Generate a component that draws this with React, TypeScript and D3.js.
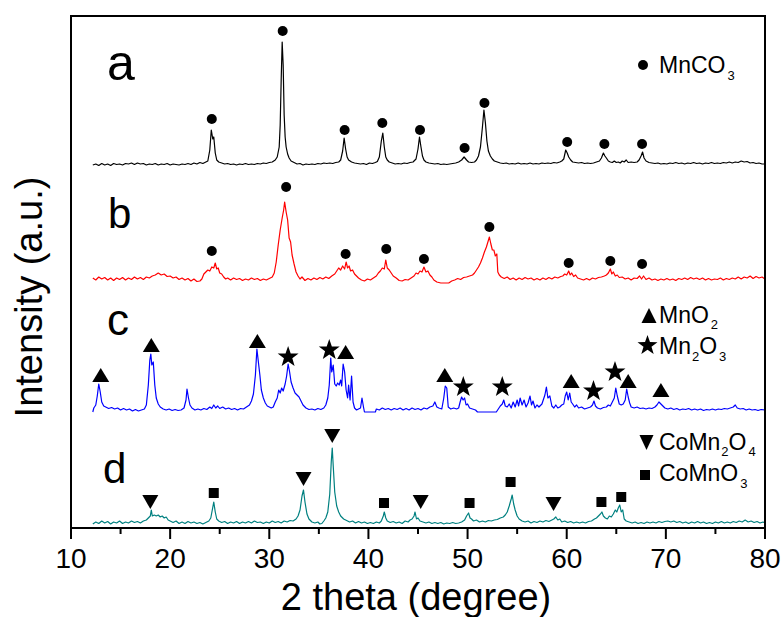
import React from "react";
import * as d3 from "d3";

// ---------- data (2θ in degrees, intensity in a.u. above each trace's own baseline) ----------
const MAJOR_TICKS = [10, 20, 30, 40, 50, 60, 70, 80];
const MINOR_TICKS = [15, 25, 35, 45, 55, 65, 75];

const OFFSET_A = 363;
const OFFSET_B = 248;
const OFFSET_C = 118;
const OFFSET_D = 4;

const traceA: number[][] = [
  [12.2,0],[12.5,1],[12.8,-0.5],[13.1,1.5],[13.4,0],[13.7,1],[14.0,-0.5],[14.3,1.5],[14.6,0.5],[14.9,1],[15.2,0],[15.5,1.5],[15.8,1],[16.1,2],[16.4,0.5],[16.7,2],[17.0,1],[17.3,1.5],[17.6,0],[17.9,1],[18.2,0.5],[18.5,1.5],[18.8,0],[19.1,1],[19.4,0.5],[19.7,1.5],[20.0,0],[20.3,1],[20.6,0.5],[20.9,0],[21.2,1],[21.5,0.5],[21.8,1.5],[22.1,0.5],[22.4,2],[22.7,1],[23.0,2.5],[23.3,1.5],[23.6,3],[23.8,4],[24.0,15],[24.15,35],[24.3,26],[24.4,28],[24.55,12],[24.7,5],[24.9,3],[25.2,2],[25.5,1],[25.8,1.5],[26.1,0.5],[26.4,1],[26.7,0],[27.0,1],[27.3,0.5],[27.6,1.5],[27.9,0.5],[28.2,1],[28.5,0.5],[28.8,1.5],[29.1,1],[29.4,2],[29.7,1.5],[30.0,2.5],[30.3,3],[30.6,5],[30.8,8],[31.0,18],[31.1,40],[31.2,85],[31.3,123],[31.4,100],[31.5,50],[31.6,28],[31.7,18],[31.85,11],[32.0,7],[32.2,4],[32.5,2.5],[32.8,1],[33.1,1.5],[33.4,0],[33.7,1],[34.0,0.5],[34.3,1],[34.6,0.5],[34.9,1.5],[35.2,1],[35.5,2],[35.8,1.5],[36.1,2],[36.4,1.5],[36.7,2.5],[37.0,3],[37.2,5],[37.4,14],[37.55,27],[37.7,16],[37.85,8],[38.0,5],[38.3,3],[38.6,2],[38.9,1.5],[39.2,1],[39.5,1.5],[39.8,0.5],[40.1,2],[40.4,1.5],[40.7,2.5],[40.9,3.5],[41.1,8],[41.3,24],[41.45,32],[41.6,18],[41.75,8],[41.9,5],[42.1,3],[42.4,2],[42.7,1],[43.0,1.5],[43.3,1],[43.6,2],[43.9,1.5],[44.2,2.5],[44.5,3],[44.8,6],[45.0,16],[45.15,28],[45.3,18],[45.45,9],[45.6,5],[45.8,3],[46.1,2],[46.4,1.5],[46.7,1],[47.0,1.5],[47.3,0.5],[47.6,1],[47.9,0.5],[48.2,1],[48.5,1.5],[48.8,2],[49.1,3],[49.4,5],[49.65,8],[49.9,5],[50.1,3],[50.4,2.5],[50.7,3],[50.9,5],[51.1,9],[51.3,18],[51.5,38],[51.65,55],[51.8,42],[51.95,24],[52.1,14],[52.3,9],[52.5,6],[52.7,4],[53.0,3],[53.3,2],[53.6,1.5],[53.9,2],[54.2,1],[54.5,1.5],[54.8,1],[55.1,2],[55.4,1],[55.7,1.5],[56.0,1],[56.3,2],[56.6,1],[56.9,1.5],[57.2,1],[57.5,2],[57.8,1.5],[58.1,2],[58.4,1.5],[58.7,2.5],[59.0,2],[59.3,3],[59.5,4],[59.7,6],[59.9,15],[60.05,12],[60.2,8],[60.4,5],[60.6,3],[60.9,2.5],[61.2,2],[61.5,2.5],[61.8,1.5],[62.1,2],[62.4,1.5],[62.7,2],[63.0,3],[63.3,4],[63.5,7],[63.7,12],[63.85,9],[64.0,7],[64.2,4],[64.4,3],[64.6,2.5],[64.8,4],[65.0,2.5],[65.2,3],[65.4,2],[65.6,4],[65.8,3],[66.0,5],[66.2,2.5],[66.5,3],[66.8,2.5],[67.1,3],[67.3,5],[67.5,9],[67.65,13],[67.8,7],[68.0,4],[68.3,2.5],[68.6,2],[68.9,1.5],[69.2,2],[69.5,1],[69.8,1.5],[70.1,1],[70.4,2],[70.7,1.5],[71.0,2.5],[71.3,1.5],[71.6,2],[71.9,1],[72.2,2],[72.5,1.5],[72.8,2.5],[73.1,1.5],[73.4,2],[73.7,1],[74.0,2],[74.3,1.5],[74.6,2.5],[74.9,1.5],[75.2,2],[75.5,1.5],[75.8,2.5],[76.1,2],[76.4,3],[76.7,2],[77.0,3],[77.3,2.5],[77.6,4],[77.9,3],[78.2,3.5],[78.5,2],[78.8,2.5],[79.1,1.5],[79.4,2],[79.7,1],[80.0,1]
];

const traceB: number[][] = [
  [12.2,2],[12.5,0],[12.8,3],[13.1,1],[13.4,2.5],[13.7,0],[14.0,2],[14.3,-0.5],[14.6,2],[14.9,0.5],[15.2,2.5],[15.5,0],[15.8,2],[16.1,0.5],[16.4,3],[16.7,1],[17.0,2.5],[17.3,0.5],[17.6,3],[17.9,2],[18.2,4],[18.5,5],[18.8,7],[19.1,5],[19.4,6],[19.7,3.5],[20.0,4],[20.3,2],[20.6,3],[20.9,0.5],[21.2,2],[21.5,0],[21.8,1.5],[22.1,-1],[22.4,1],[22.7,-1.5],[23.0,-1],[23.2,1],[23.4,6],[23.6,8],[23.8,10],[24.0,9],[24.2,13],[24.4,12],[24.55,17],[24.7,11],[24.85,12],[25.0,7],[25.2,6],[25.4,3],[25.6,1],[25.8,2],[26.1,0],[26.4,2],[26.7,0.5],[27.0,1.5],[27.3,-0.5],[27.6,1],[27.9,0],[28.2,2],[28.5,0.5],[28.8,1.5],[29.1,-0.5],[29.4,1],[29.7,0],[30.0,1.5],[30.3,3],[30.5,7],[30.7,18],[30.9,35],[31.1,50],[31.3,62],[31.45,70],[31.55,78],[31.7,68],[31.85,60],[32.0,42],[32.15,38],[32.3,25],[32.5,16],[32.7,8],[32.9,4],[33.1,1],[33.3,3],[33.6,-0.5],[33.9,1.5],[34.2,0],[34.5,2],[34.8,0.5],[35.1,2.5],[35.4,1],[35.7,3],[36.0,1.5],[36.3,4],[36.6,6],[36.8,9],[37.0,12],[37.2,10],[37.4,14],[37.6,11],[37.75,18],[37.9,12],[38.05,14],[38.2,9],[38.4,10],[38.6,6],[38.8,4],[39.0,2],[39.3,0],[39.6,-1],[39.9,1],[40.2,0],[40.5,2],[40.8,4],[41.0,7],[41.2,9],[41.4,12],[41.6,11],[41.75,20],[41.9,12],[42.1,10],[42.3,7],[42.5,4],[42.8,2],[43.1,-0.5],[43.4,-1],[43.7,0.5],[44.0,0],[44.3,2],[44.6,4],[44.8,7],[45.0,6],[45.2,9],[45.4,8],[45.6,13],[45.8,8],[46.0,9],[46.2,5],[46.4,3],[46.6,0],[46.9,-2],[47.3,-3],[47.7,-3],[48.1,-3],[48.4,-1],[48.7,0],[49.0,1.5],[49.3,0.5],[49.6,2.5],[49.9,3],[50.2,4],[50.5,5],[50.7,7],[50.9,10],[51.1,13],[51.3,17],[51.5,22],[51.7,28],[51.9,33],[52.05,38],[52.2,43],[52.35,36],[52.5,30],[52.65,30],[52.8,24],[52.95,26],[53.05,8],[53.2,5],[53.4,3],[53.7,1.5],[54.0,3],[54.3,0.5],[54.6,2],[54.9,0],[55.2,2],[55.5,0.5],[55.8,2.5],[56.1,1],[56.4,2],[56.7,0],[57.0,1.5],[57.3,0],[57.6,2],[57.9,0.5],[58.2,2.5],[58.5,1],[58.8,3],[59.1,2],[59.4,3.5],[59.6,4],[59.8,6],[60.0,5],[60.2,9],[60.35,5],[60.5,7],[60.7,3.5],[60.9,5],[61.1,2],[61.4,1],[61.7,0],[62.0,1.5],[62.3,0],[62.6,2],[62.9,1],[63.2,2.5],[63.5,3],[63.8,4],[64.0,5],[64.2,7],[64.4,11],[64.55,6],[64.7,8],[64.9,4],[65.1,5],[65.3,2.5],[65.6,3],[65.9,1],[66.2,2],[66.5,0],[66.8,2],[67.1,1.5],[67.35,4],[67.55,1],[67.75,4],[68.0,0.5],[68.3,2],[68.6,0],[68.9,1],[69.2,-0.5],[69.5,1],[69.8,0],[70.1,1.5],[70.4,0],[70.7,1],[71.0,-0.5],[71.3,1.5],[71.6,0.5],[71.9,2],[72.2,0.5],[72.5,2.5],[72.8,1],[73.1,2],[73.4,0.5],[73.7,2],[74.0,0],[74.3,1.5],[74.6,0],[74.9,1],[75.2,0.5],[75.5,2],[75.8,0],[76.1,1.5],[76.4,0.5],[76.7,2],[77.0,1],[77.3,3],[77.6,1],[77.9,3],[78.2,2],[78.5,4],[78.8,1.5],[79.1,3.5],[79.4,2],[79.7,3],[80.0,1]
];

const traceC: number[][] = [
  [12.2,-2],[12.3,2],[12.5,5],[12.65,14],[12.8,26],[12.95,18],[13.1,8],[13.3,4],[13.5,3],[13.8,1.5],[14.1,2.5],[14.4,1],[14.7,2],[15.0,0],[15.3,1.5],[15.6,0],[15.9,1],[16.2,-1],[16.5,0.5],[16.8,-1],[17.1,0],[17.4,1],[17.6,5],[17.8,25],[17.95,50],[18.05,56],[18.15,45],[18.3,48],[18.45,25],[18.6,12],[18.8,6],[19.0,3],[19.3,1],[19.6,0],[19.9,1],[20.2,-0.5],[20.5,0.5],[20.8,-0.5],[21.1,0],[21.4,2],[21.6,10],[21.7,21],[21.85,12],[22.0,5],[22.2,2],[22.5,0],[22.8,1],[23.1,0],[23.4,1.5],[23.7,0.5],[24.0,3],[24.2,1.5],[24.4,5],[24.6,2],[24.8,4],[25.0,1.5],[25.3,3],[25.6,1],[25.9,2],[26.2,0.5],[26.5,1.5],[26.8,0],[27.1,1.5],[27.4,1],[27.7,3],[28.0,5],[28.2,9],[28.4,16],[28.6,35],[28.75,61],[28.9,48],[29.05,35],[29.2,20],[29.4,12],[29.6,7],[29.8,4],[30.0,3],[30.2,2],[30.4,3],[30.6,8],[30.8,12],[30.95,20],[31.1,17],[31.25,22],[31.4,19],[31.6,26],[31.75,34],[31.9,46],[32.05,38],[32.2,28],[32.4,22],[32.6,17],[32.8,15],[33.0,13],[33.2,9],[33.4,5],[33.7,2],[34.0,0.5],[34.3,1],[34.6,0],[34.9,1.5],[35.2,0.5],[35.5,2],[35.7,5],[35.9,12],[36.05,25],[36.2,52],[36.3,38],[36.45,45],[36.6,26],[36.75,24],[36.9,27],[37.05,25],[37.2,30],[37.3,24],[37.45,46],[37.6,38],[37.75,20],[37.9,12],[38.0,25],[38.15,10],[38.3,34],[38.45,8],[38.6,2],[38.8,0],[39.0,1],[39.2,2],[39.35,12],[39.5,3],[39.6,-2],[40.7,-2],[40.8,1],[41.1,0],[41.4,2],[41.7,0.5],[42.0,1.5],[42.3,0],[42.6,1.5],[42.9,0.5],[43.2,2],[43.5,0],[43.8,1.5],[44.1,0],[44.4,2],[44.7,0.5],[45.0,1.5],[45.3,0],[45.6,2],[45.9,1],[46.2,3],[46.5,4],[46.7,8],[46.9,3],[47.1,2],[47.4,1],[47.6,12],[47.75,24],[47.9,22],[48.05,3],[48.3,1],[48.6,2],[48.9,1],[49.1,2],[49.25,8],[49.4,13],[49.55,10],[49.7,12],[49.85,5],[50.0,6],[50.2,2],[50.5,1],[50.8,0],[51.0,-2],[52.9,-2],[53.1,1],[53.3,4],[53.5,6],[53.65,10],[53.8,4],[54.0,3],[54.2,6],[54.4,2],[54.6,8],[54.8,3],[55.0,10],[55.15,4],[55.3,12],[55.5,5],[55.7,10],[55.9,3],[56.1,7],[56.3,14],[56.45,5],[56.6,9],[56.8,2],[57.0,5],[57.2,3],[57.5,6],[57.8,15],[57.95,23],[58.1,12],[58.3,14],[58.5,4],[58.7,2],[58.9,5],[59.1,2],[59.3,3],[59.5,5],[59.7,6],[59.85,14],[60.0,18],[60.15,10],[60.3,17],[60.45,8],[60.6,6],[60.8,3],[61.0,5],[61.2,2],[61.5,3],[61.8,1],[62.1,2],[62.4,3],[62.6,5],[62.75,9],[62.9,4],[63.1,2],[63.4,1],[63.7,2.5],[64.0,3],[64.2,5],[64.4,4],[64.6,8],[64.8,12],[64.95,22],[65.1,14],[65.3,6],[65.5,5],[65.7,6],[65.9,10],[66.05,21],[66.2,13],[66.35,7],[66.5,3],[66.8,2],[67.1,3],[67.4,1.5],[67.7,2],[68.0,1],[68.3,2],[68.6,1.5],[68.9,3],[69.1,5],[69.3,8],[69.5,6],[69.7,4],[69.9,2],[70.2,1],[70.5,2],[70.8,0.5],[71.1,1.5],[71.4,0],[71.7,1],[72.0,0.5],[72.3,1.5],[72.6,0],[72.9,1],[73.2,0],[73.5,1],[73.8,-0.5],[74.1,0.5],[74.4,0],[74.7,1],[75.0,0],[75.3,1],[75.6,0.5],[75.9,1.5],[76.2,1],[76.5,2],[76.8,3],[77.0,5],[77.2,2],[77.5,1],[77.8,1.5],[78.1,0],[78.4,1],[78.7,0],[79.0,0.5],[79.3,-0.5],[79.6,0.5],[80.0,0]
];

const traceD: number[][] = [
  [12.2,0],[12.5,2],[12.8,0.5],[13.1,3],[13.4,1],[13.7,2.5],[14.0,0],[14.3,2],[14.6,1],[14.9,3],[15.2,0.5],[15.5,2],[15.8,1],[16.1,3],[16.4,1.5],[16.7,2.5],[17.0,1],[17.3,3],[17.6,4],[17.8,6],[18.0,8],[18.1,14],[18.2,8],[18.4,9],[18.6,8],[18.8,9],[19.0,7],[19.2,8],[19.4,6],[19.6,7],[19.8,4],[20.0,3],[20.3,1.5],[20.6,3],[20.9,0.5],[21.2,2],[21.5,0.5],[21.8,2.5],[22.1,1],[22.4,2],[22.7,0.5],[23.0,1.5],[23.3,0],[23.6,1.5],[23.9,3],[24.1,6],[24.25,14],[24.4,22],[24.55,12],[24.7,5],[24.9,3],[25.2,1.5],[25.5,2.5],[25.8,0.5],[26.1,2],[26.4,1],[26.7,2.5],[27.0,0.5],[27.3,2],[27.6,1],[27.9,2.5],[28.2,1],[28.5,3],[28.8,1.5],[29.1,2],[29.4,0.5],[29.7,2],[30.0,1],[30.3,3],[30.6,1.5],[30.9,2.5],[31.2,1],[31.5,3],[31.8,2],[32.1,3.5],[32.4,3],[32.7,5],[32.9,8],[33.1,14],[33.3,28],[33.45,34],[33.6,22],[33.8,10],[34.0,5],[34.3,2],[34.6,1],[34.9,2],[35.1,0],[35.3,0.5],[35.5,3],[35.7,6],[35.9,12],[36.1,30],[36.25,62],[36.35,76],[36.45,58],[36.6,32],[36.8,18],[37.0,12],[37.2,8],[37.5,5],[37.8,3.5],[38.1,2],[38.4,3],[38.7,1],[39.0,2.5],[39.3,1],[39.6,2],[39.9,0.5],[40.2,1.5],[40.5,0.5],[40.8,2],[41.1,1],[41.3,3],[41.5,8],[41.6,12],[41.75,6],[41.9,3],[42.2,1.5],[42.5,2.5],[42.8,1],[43.1,2],[43.4,0.5],[43.7,3],[44.0,2],[44.2,4],[44.4,5],[44.6,8],[44.7,12],[44.85,5],[45.0,6],[45.2,3],[45.5,2],[45.8,1],[46.1,2],[46.4,0.5],[46.7,1.5],[47.0,0.5],[47.3,1.5],[47.6,0],[47.9,1],[48.2,0.5],[48.5,1.5],[48.8,0.5],[49.1,1],[49.4,2],[49.7,4],[49.9,8],[50.1,11],[50.25,6],[50.4,5],[50.6,3],[50.9,4],[51.2,2],[51.5,3],[51.8,2],[52.1,3.5],[52.4,3],[52.7,4],[53.0,4.5],[53.3,6],[53.6,7],[53.8,9],[54.0,12],[54.2,18],[54.4,25],[54.5,29],[54.65,20],[54.8,14],[55.0,8],[55.2,5],[55.5,3],[55.8,2],[56.1,3],[56.4,1],[56.7,2.5],[57.0,1.5],[57.3,3],[57.6,2],[57.9,3.5],[58.2,2.5],[58.5,4],[58.7,5],[58.9,7],[59.1,4],[59.3,5],[59.5,2],[59.8,3],[60.1,1.5],[60.4,2.5],[60.7,1],[61.0,2],[61.3,1],[61.6,2],[61.9,1],[62.2,2.5],[62.5,3],[62.8,5],[63.0,6],[63.2,8],[63.4,10],[63.55,12],[63.7,8],[63.9,6],[64.1,5],[64.3,8],[64.5,7],[64.7,10],[64.9,14],[65.05,12],[65.2,16],[65.35,19],[65.5,12],[65.65,14],[65.8,5],[66.0,3],[66.3,2],[66.6,1],[66.9,2],[67.2,0.5],[67.5,1.5],[67.8,0.5],[68.1,2],[68.4,1],[68.7,2],[69.0,1],[69.3,2.5],[69.6,1.5],[69.9,2.5],[70.2,3],[70.5,2],[70.8,3],[71.1,1.5],[71.4,2.5],[71.7,1],[72.0,2],[72.3,0.5],[72.6,2],[72.9,1],[73.2,2.5],[73.5,1],[73.8,2],[74.1,0.5],[74.4,1.5],[74.7,0.5],[75.0,2],[75.3,1],[75.6,2.5],[75.9,1],[76.2,2],[76.5,1],[76.8,2.5],[77.1,1.5],[77.4,3],[77.7,2],[78.0,4],[78.3,2],[78.6,3],[78.9,1.5],[79.2,2.5],[79.5,1],[79.8,2],[80.0,1]
];

// peak markers: [2θ, absolute intensity]
const dotsA: number[][] = [[24.2,409],[31.35,497],[37.6,398],[41.4,405],[45.2,398],[49.7,380],[51.7,425],[60.05,386],[63.8,384],[67.6,384]];
const dotsB: number[][] = [[24.2,277],[31.7,341],[37.7,274],[41.8,279],[45.6,269],[52.2,301],[60.2,265],[64.4,267],[67.6,264]];
const trianglesC: number[][] = [[13.0,153],[18.1,183],[28.8,187],[37.7,176],[47.7,153],[60.45,147],[66.2,147],[69.5,138]];
const starsC: number[][] = [[31.9,171],[36.05,178],[49.57,141],[53.5,141],[62.7,137],[64.87,156]];
const downTrianglesD: number[][] = [[18.0,26],[33.45,49],[36.35,92],[45.27,26],[58.67,24]];
const squaresD: number[][] = [[24.4,35],[41.57,25],[50.2,25],[54.34,46],[63.5,26],[65.5,31]];

const SAMPLE_LABELS = ["a", "b", "c", "d"];
const COLORS = ["#000000", "#ff0000", "#0000ff", "#008080"];

// ---------- layout ----------
const W = 783, H = 617;
const L = 71, R = 765, T = 16, B = 528;
const FONT = "'Liberation Sans', Arial, Helvetica, sans-serif";

const x = d3.scaleLinear().domain([10, 80]).range([L, R]);
const y = d3.scaleLinear().domain([0, 512]).range([B, T]);

function linePath(data: number[][], offset: number) {
  return d3.line<number[]>().x(d => x(d[0])).y(d => y(d[1] + offset))(data) || "";
}

function triUp(cx: number, cy: number, w = 16, h = 14) {
  return `M${cx},${cy - h / 2}L${cx + w / 2},${cy + h / 2}L${cx - w / 2},${cy + h / 2}Z`;
}
function triDown(cx: number, cy: number, w = 16, h = 14) {
  return `M${cx - w / 2},${cy - h / 2}L${cx + w / 2},${cy - h / 2}L${cx},${cy + h / 2}Z`;
}
function star(cx: number, cy: number, ro = 11, ri = 4.4) {
  const pts: string[] = [];
  for (let i = 0; i < 10; i++) {
    const r = i % 2 === 0 ? ro : ri;
    const a = -Math.PI / 2 + (i * Math.PI) / 5;
    pts.push(`${cx + r * Math.cos(a)},${cy + r * Math.sin(a)}`);
  }
  return "M" + pts.join("L") + "Z";
}

export default function App() {
  const traces = [
    { data: traceA, off: OFFSET_A },
    { data: traceB, off: OFFSET_B },
    { data: traceC, off: OFFSET_C },
    { data: traceD, off: OFFSET_D },
  ];
  const letterPos = [
    { x: 107, y: 80, fs: 50 },
    { x: 108, y: 228, fs: 42 },
    { x: 107, y: 335, fs: 44 },
    { x: 103, y: 483, fs: 42 },
  ];
  return (
    <svg width={W} height={H} style={{ position: "absolute", left: 0, top: 0, background: "#fff" }} fontFamily={FONT}>
      <rect x={0} y={0} width={W} height={H} fill="#fff" />
      {traces.map((t, i) => (
        <path key={i} d={linePath(t.data, t.off)} fill="none" stroke={COLORS[i]} strokeWidth={1.2} strokeLinejoin="round" />
      ))}
      {/* frame */}
      <rect x={L} y={T} width={R - L} height={B - T} fill="none" stroke="#000" strokeWidth={2} />
      {/* ticks */}
      {MAJOR_TICKS.map(v => (
        <g key={"M" + v}>
          <line x1={x(v)} x2={x(v)} y1={B} y2={B + 11} stroke="#000" strokeWidth={2} />
          <text x={x(v)} y={568} fontSize={28} textAnchor="middle">{v}</text>
        </g>
      ))}
      {MINOR_TICKS.map(v => (
        <line key={"m" + v} x1={x(v)} x2={x(v)} y1={B} y2={B + 6} stroke="#000" strokeWidth={2} />
      ))}
      {/* axis titles */}
      <text x={416} y={610} fontSize={38} textAnchor="middle">2 theta (degree)</text>
      <text transform={`translate(42,${297}) rotate(-90)`} fontSize={38} textAnchor="middle">Intensity (a.u.)</text>
      {/* sample letters */}
      {SAMPLE_LABELS.map((s, i) => (
        <text key={s} x={letterPos[i].x} y={letterPos[i].y} fontSize={letterPos[i].fs}>{s}</text>
      ))}
      {/* markers */}
      {dotsA.concat(dotsB).map((d, i) => (
        <circle key={"dot" + i} cx={x(d[0])} cy={y(d[1])} r={5} fill="#000" />
      ))}
      {trianglesC.map((d, i) => (
        <path key={"tu" + i} d={triUp(x(d[0]), y(d[1]), 17, 14)} fill="#000" />
      ))}
      {starsC.map((d, i) => (
        <path key={"st" + i} d={star(x(d[0]), y(d[1]))} fill="#000" />
      ))}
      {downTrianglesD.map((d, i) => (
        <path key={"td" + i} d={triDown(x(d[0]), y(d[1]), 16, 14)} fill="#000" />
      ))}
      {squaresD.map((d, i) => (
        <rect key={"sq" + i} x={x(d[0]) - 5} y={y(d[1]) - 5} width={10} height={10} fill="#000" />
      ))}
      {/* legends */}
      <circle cx={643} cy={65} r={5} fill="#000" />
      <text x={659} y={73} fontSize={23}>MnCO<tspan fontSize={13} dx={2} dy={7}>3</tspan></text>
      <path d={triUp(649, 315.5, 15, 15)} fill="#000" />
      <text x={659} y={323} fontSize={23}>MnO<tspan fontSize={13} dx={2} dy={6}>2</tspan></text>
      <path d={star(647.5, 345.5, 10.5, 4.2)} fill="#000" />
      <text x={659} y={354} fontSize={23}>Mn<tspan fontSize={13} dx={1} dy={7}>2</tspan><tspan dy={-7}>O</tspan><tspan fontSize={13} dx={2} dy={7}>3</tspan></text>
      <path d={triDown(646.5, 442.5, 14, 15)} fill="#000" />
      <text x={659} y={450} fontSize={23}>CoMn<tspan fontSize={13} dx={1} dy={6}>2</tspan><tspan dy={-6}>O</tspan><tspan fontSize={13} dx={2} dy={6}>4</tspan></text>
      <rect x={640} y={470} width={10} height={10} fill="#000" />
      <text x={659} y={481} fontSize={23}>CoMnO<tspan fontSize={13} dx={2} dy={7}>3</tspan></text>
    </svg>
  );
}
